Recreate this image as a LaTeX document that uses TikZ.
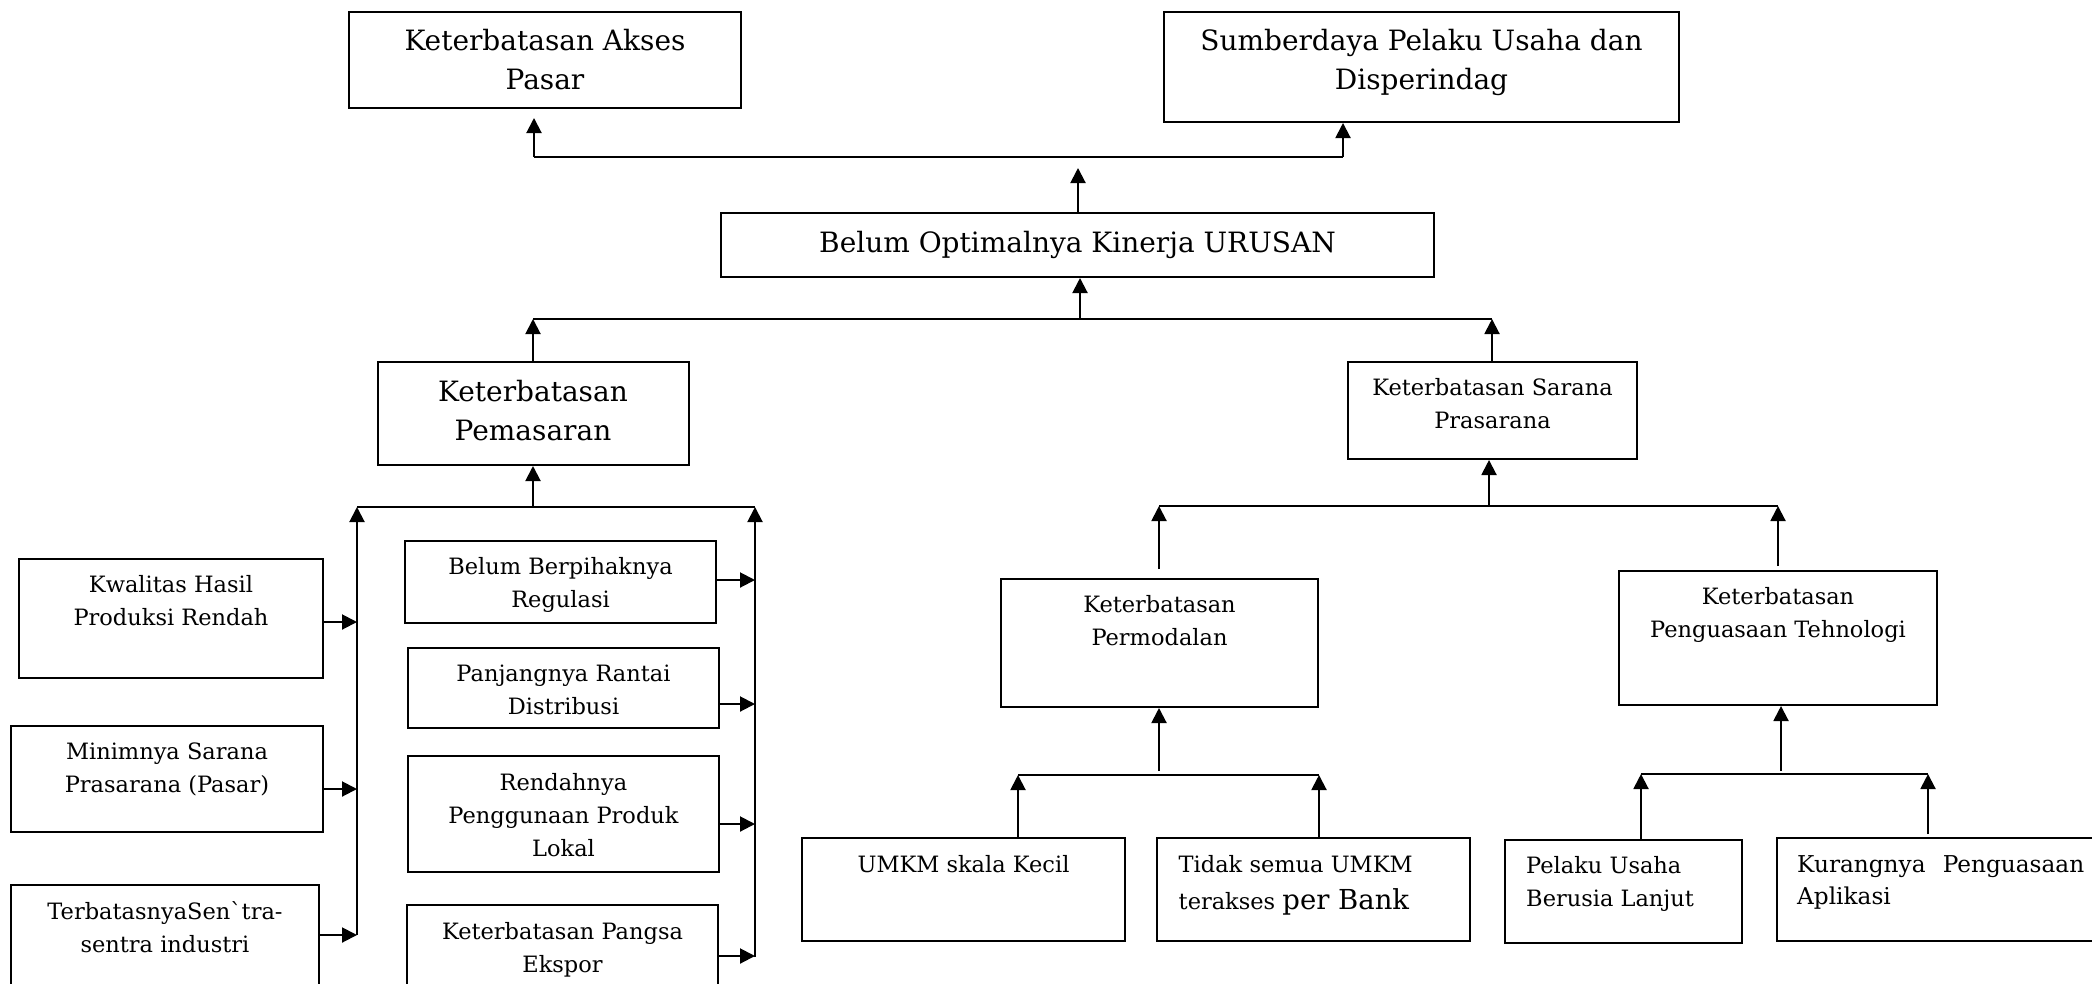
\documentclass[tikz,border=0pt]{standalone}
\usepackage{fontspec}
\setmainfont{DejaVu Serif}
\usetikzlibrary{arrows.meta,calc}
\tikzset{
  box/.style={draw, line width=2pt, rectangle, inner sep=0pt},
  bigt/.style={font=\fontsize{28}{39}\selectfont, align=center, inner sep=0pt},
  smlt/.style={font=\fontsize{22.5}{33}\selectfont, align=center, inner sep=0pt},
  smlleft/.style={font=\fontsize{22.5}{33}\selectfont, align=left, inner sep=0pt, anchor=north west},
  ln/.style={line width=2pt},
  arr/.style={line width=2pt, -{Triangle[length=15pt,width=15pt]}}
}
\begin{document}
\begin{tikzpicture}[x=1pt,y=-1pt]
\useasboundingbox (0,0) rectangle (2092,983);
\clip (0,0) rectangle (2092,983);
% ---------- boxes ----------
\node[box, minimum width=392, minimum height=96] (akses) at (545,60) {};
\node[box, minimum width=515, minimum height=110] (sumber) at (1421.5,67) {};
\node[box, minimum width=713, minimum height=64] (belum) at (1077.5,245) {};
\node[box, minimum width=311, minimum height=103] (pemasaran) at (533,413.5) {};
\node[box, minimum width=289, minimum height=97] (sarana) at (1492,410.5) {};
\node[box, minimum width=304, minimum height=119] (kwalitas) at (171,618.5) {};
\node[box, minimum width=312, minimum height=106] (minimnya) at (167,779) {};
\node[box, minimum width=308, minimum height=115] (terbatas) at (165,942.5) {};
\node[box, minimum width=311, minimum height=82] (regulasi) at (560.5,582) {};
\node[box, minimum width=311, minimum height=80] (panjang) at (563.5,688) {};
\node[box, minimum width=311, minimum height=116] (rendah) at (563.5,814) {};
\node[box, minimum width=311, minimum height=95] (ekspor) at (562.5,952.5) {};
\node[box, minimum width=317, minimum height=128] (permodalan) at (1159,643) {};
\node[box, minimum width=318, minimum height=134] (tehnologi) at (1778,638) {};
\node[box, minimum width=323, minimum height=103] (umkm) at (963.5,889.5) {};
\node[box, minimum width=313, minimum height=103] (tidak) at (1313.5,889.5) {};
\node[box, minimum width=237, minimum height=103] (pelaku) at (1623.5,891.5) {};
\node[box, minimum width=333, minimum height=103] (kurang) at (1943.5,889.5) {};
% ---------- texts ----------
\node[bigt, anchor=north] (aksesT) at (545,29) {Keterbatasan Akses\\Pasar};
\node[bigt, anchor=north] (sumberT) at (1421.5,29) {Sumberdaya Pelaku Usaha dan\\Disperindag};
\node[bigt] (belumT) at (belum.center) {Belum Optimalnya Kinerja URUSAN};
\node[bigt, anchor=north] (pemasaranT) at (533,380) {Keterbatasan\\Pemasaran};
\node[smlt, anchor=north] (saranaT) at (1492.5,378) {Keterbatasan Sarana\\Prasarana};
\node[smlt, anchor=north] (kwalitasT) at (171,575) {Kwalitas Hasil\\Produksi Rendah};
\node[smlt, anchor=north] (minimnyaT) at (167,743) {Minimnya Sarana\\Prasarana (Pasar)};
\node[smlt, anchor=north] (terbatasT) at (165,901) {TerbatasnyaSen\textasciigrave tra-\\sentra industri};
\node[smlt, anchor=north] (regulasiT) at (560.5,557) {Belum Berpihaknya\\Regulasi};
\node[smlt, anchor=north] (panjangT) at (563.5,665) {Panjangnya Rantai\\Distribusi};
\node[smlt, anchor=north] (rendahT) at (563.5,773) {Rendahnya\\Penggunaan Produk\\Lokal};
\node[smlt, anchor=north] (eksporT) at (562.5,922) {Keterbatasan Pangsa\\Ekspor};
\node[smlt, anchor=north] (permodalanT) at (1159.5,595) {Keterbatasan\\Permodalan};
\node[smlt, anchor=north] (tehnologiT) at (1778,587) {Keterbatasan\\Penguasaan Tehnologi};
\node[smlt, anchor=north] (umkmT) at (963.5,855) {UMKM skala Kecil};
\node[smlleft] (tidakT) at (1178.5,855) {Tidak semua UMKM\\[4pt]terakses {\fontsize{27.5}{33}\selectfont per Bank}};
\node[smlleft] (pelakuT) at (1526,856.5) {Pelaku Usaha\\Berusia Lanjut};
\node[smlleft, font=\fontsize{23.2}{32}\selectfont] (kurangT) at (1797,855) {\hbox to 287pt{Kurangnya\hfill Penguasaan}\\Aplikasi};
% ---------- top tier ----------
\coordinate (tb1) at (534,157);
\coordinate (tb2) at (1343,157);
\coordinate (belumtip) at (1078,168);
\draw[ln] (tb1) -- (tb2);
\draw[arr, shorten >=9pt] (tb1) -- (tb1 |- akses.south);
\draw[arr] (tb2) -- (tb2 |- sumber.south);
\draw[arr] (belum.north -| belumtip) -- (belumtip);
% ---------- middle tier ----------
\coordinate (mb1) at (533,319);
\coordinate (mb2) at (1492,319);
\draw[ln] (mb1) -- (mb2);
\draw[arr] (pemasaran.north) -- (pemasaran.north |- mb1);
\draw[arr] (sarana.north) -- (sarana.north |- mb2);
\draw[arr] (1080,319) -- (1080,0 |- belum.south);
% ---------- left subtree ----------
\coordinate (lb1) at (357,507);
\coordinate (lb2) at (755,507);
\coordinate (lv) at (357,935);
\coordinate (rv) at (755,957);
\draw[ln] (lb1) -- (lb2);
\draw[arr] (pemasaran.south |- lb1) -- (pemasaran.south);
\draw[arr] (lv) -- (lb1);
\draw[arr] (rv) -- (lb2);
\draw[arr] (kwalitas.east |- 0,622) -- (lb1 |- 0,622);
\draw[arr] (minimnya.east |- 0,789) -- (lb1 |- 0,789);
\draw[arr] (terbatas.east |- 0,935) -- (lv);
\draw[arr] (regulasi.east |- 0,580) -- (lb2 |- 0,580);
\draw[arr] (panjang.east |- 0,704) -- (lb2 |- 0,704);
\draw[arr] (rendah.east |- 0,824) -- (lb2 |- 0,824);
\draw[arr] (ekspor.east |- 0,956) -- (rv |- 0,956);
% ---------- right subtree ----------
\coordinate (sb1) at (1159,506);
\coordinate (sb2) at (1778,506);
\draw[ln] (sb1) -- (sb2);
\draw[arr] (1489,506) -- (1489,0 |- sarana.south);
\draw[arr] ([yshift=9pt]permodalan.north) -- (sb1);
\draw[arr] ([yshift=4pt]tehnologi.north) -- (sb2);
% ---------- permodalan subtree ----------
\coordinate (pb1) at (1018,775);
\coordinate (pb2) at (1319,775);
\draw[ln] (pb1) -- (pb2);
\draw[arr] (permodalan.south |- 0,771) -- (permodalan.south);
\draw[arr] (umkm.north -| pb1) -- (pb1);
\draw[arr] (tidak.north -| pb2) -- (pb2);
% ---------- tehnologi subtree ----------
\coordinate (tb3) at (1641,774);
\coordinate (tb4) at (1928,774);
\draw[ln] (tb3) -- (tb4);
\draw[arr] (1781,771) -- (1781,0 |- tehnologi.south);
\draw[arr] (pelaku.north -| tb3) -- (tb3);
\draw[arr] ([yshift=3pt]kurang.north -| tb4) -- (tb4);
\end{tikzpicture}
\end{document}
